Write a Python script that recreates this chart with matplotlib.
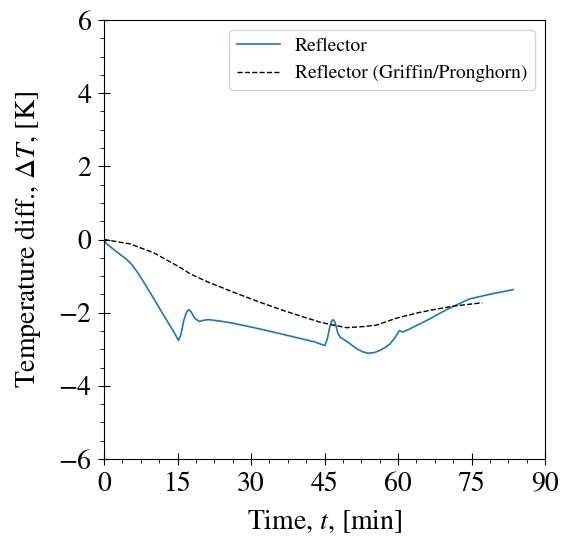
import matplotlib
matplotlib.use("Agg")
import matplotlib.pyplot as plt
from matplotlib.ticker import AutoMinorLocator

plt.rcParams["font.family"] = "STIXGeneral"
plt.rcParams["mathtext.fontset"] = "stix"

# reflector temperature difference (simulation)
t_refl = [0.0, 0.3, 0.55, 1.5, 3.0, 4.5, 5.65, 7.0, 8.5, 10.0, 11.5, 13.0,
          14.3, 15.2, 15.7, 16.3, 16.9, 17.3, 17.8, 18.5, 19.4, 20.3, 21.3,
          23.7, 26.4, 32.0, 38.0, 43.0, 45.1, 45.6, 46.1, 46.5, 46.8, 47.2,
          47.7, 48.2, 49.5, 50.5, 51.6, 52.8, 53.9, 55.2, 56.3, 57.4, 58.4,
          59.4, 60.3, 61.0, 62.3, 63.8, 66.5, 68.5, 70.6, 74.7, 79.0, 83.5]
dT_refl = [0.0, -0.07, -0.12, -0.22, -0.38, -0.53, -0.68, -0.93, -1.25,
           -1.58, -1.92, -2.25, -2.54, -2.76, -2.6, -2.2, -1.97, -1.92, -1.98,
           -2.15, -2.24, -2.21, -2.19, -2.23, -2.29, -2.45, -2.64, -2.80, -2.90,
           -2.70, -2.38, -2.22, -2.19, -2.28, -2.55, -2.67, -2.78, -2.88, -2.99,
           -3.07, -3.11, -3.09, -3.03, -2.95, -2.85, -2.68, -2.49, -2.53, -2.45,
           -2.35, -2.17, -2.02, -1.87, -1.62, -1.49, -1.37]

# Griffin/Pronghorn reference
t_gp = [0.0, 5.3, 10.1, 15.5, 17.6, 21.0, 26.4, 31.5, 36.6, 41.0, 44.1, 46.1,
        49.5, 53.0, 55.6, 57.5, 59.7, 64.5, 68.0, 71.3, 77.2]
dT_gp = [0.0, -0.12, -0.36, -0.76, -0.94, -1.15, -1.44, -1.70, -1.94, -2.13,
         -2.26, -2.32, -2.41, -2.38, -2.34, -2.25, -2.15, -1.99, -1.90, -1.82,
         -1.73]

fig = plt.figure(figsize=(5.64, 5.38), dpi=100)
ax = fig.add_axes([104 / 564, 1 - 459 / 538, 441 / 564, 439 / 538])

ax.plot(t_refl, dT_refl, color="#1f77b4", lw=1.2, label="Reflector")
ax.plot(t_gp, dT_gp, "k--", lw=1.0, label="Reflector (Griffin/Pronghorn)")

ax.set_xlim(0, 90)
ax.set_ylim(-6, 6)
ax.set_xticks(range(0, 91, 15))
ax.set_yticks(range(-6, 7, 2))
ax.xaxis.set_minor_locator(AutoMinorLocator(4))
ax.yaxis.set_minor_locator(AutoMinorLocator(4))
ax.tick_params(which="major", direction="inout", length=8, labelsize=20, pad=5)
ax.tick_params(which="minor", direction="out", length=3)

ax.set_xlabel("Time, $t$, [min]", fontsize=20, labelpad=8)
ax.set_ylabel(r"Temperature diff., $\Delta T$, [K]", fontsize=20, labelpad=11)
ax.legend(loc="upper right", fontsize=14, handlelength=2.2)

fig.savefig("out.png", dpi=100)
